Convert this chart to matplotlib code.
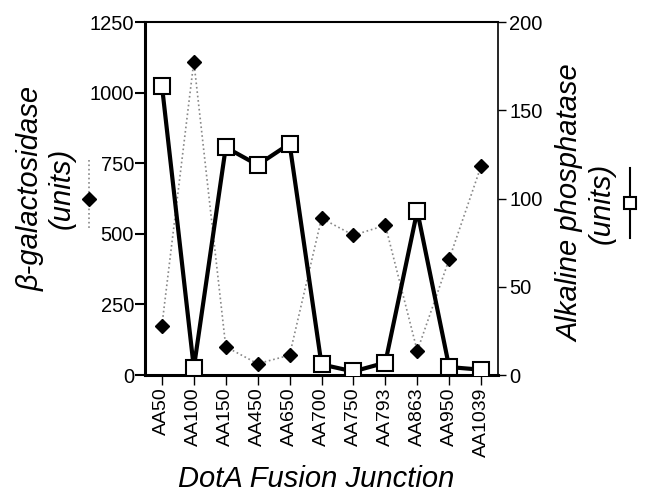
import matplotlib.pyplot as plt
from matplotlib.lines import Line2D

plt.rcParams['font.family'] = ['Liberation Sans', 'DejaVu Sans']

junctions = ['AA50', 'AA100', 'AA150', 'AA450', 'AA650', 'AA700',
             'AA750', 'AA793', 'AA863', 'AA950', 'AA1039']
beta_gal = [175, 1110, 100, 40, 70, 555, 495, 530, 85, 410, 740]
alk_phos = [164, 4, 129, 119, 131, 6, 2, 7, 93, 4.5, 3]

x = list(range(len(junctions)))
W, H = 647, 494

fig = plt.figure(figsize=(6.47, 4.94), dpi=100)
ax = fig.add_axes([145 / W, 1 - 375 / H, 353 / W, 353 / H])
ax2 = ax.twinx()

# beta-galactosidase: thin grey dotted line with black diamonds
ax.plot(x, beta_gal, color='#888888', linestyle=':', linewidth=1.2,
        marker='D', markersize=7, markerfacecolor='black',
        markeredgecolor='black', zorder=2)
# alkaline phosphatase: thick black line with open squares
ax2.plot(x, alk_phos, color='black', linewidth=3,
         marker='s', markersize=12, markerfacecolor='white',
         markeredgecolor='black', markeredgewidth=1.5, zorder=3)

ax.set_xlim(-0.53, len(junctions) - 0.47)
ax.set_ylim(0, 1250)
ax2.set_ylim(0, 200)
ax.set_yticks([0, 250, 500, 750, 1000, 1250])
ax2.set_yticks([0, 50, 100, 150, 200])
ax.set_xticks(x)
ax.set_xticklabels(junctions, rotation=90, fontsize=14)

ax.tick_params(axis='y', direction='out', length=7, width=1.5, labelsize=14.5, pad=1)
ax.tick_params(axis='x', direction='out', length=7, width=1, pad=2)
ax2.tick_params(axis='y', direction='out', length=6, width=1, labelsize=14.5, pad=2)

for s in ['left', 'bottom']:
    ax.spines[s].set_linewidth(2.2)
ax.spines['top'].set_linewidth(1.5)
ax2.spines['top'].set_visible(False)
ax2.spines['left'].set_visible(False)
ax2.spines['bottom'].set_visible(False)
ax2.spines['right'].set_linewidth(1.2)
ax.spines['right'].set_visible(False)

# axis titles placed by hand
fig.text(46 / W, 1 - 188 / H, 'β-galactosidase\n(units)', fontsize=21,
         style='italic', rotation=90, ha='center', va='center',
         multialignment='center', linespacing=1.15)
fig.text(586 / W, 1 - 203 / H, 'Alkaline phosphatase\n(units)', fontsize=21,
         style='italic', rotation=90, ha='center', va='center',
         multialignment='center', linespacing=1.15)
fig.text(316 / W, 1 - 487 / H, 'DotA Fusion Junction', fontsize=21,
         style='italic', ha='center', va='baseline')

# little key symbols beside the axis titles
fig.add_artist(Line2D([89 / W, 89 / W], [1 - 160 / H, 1 - 230 / H],
                      color='#888888', linestyle=':', linewidth=1.2))
fig.add_artist(Line2D([89 / W], [1 - 199 / H], marker='D', markersize=7,
                      color='black'))
fig.add_artist(Line2D([630 / W, 630 / W], [1 - 168 / H, 1 - 238 / H],
                      color='black', linewidth=1.5))
fig.add_artist(Line2D([630 / W], [1 - 203 / H], marker='s', markersize=8,
                      markerfacecolor='white', markeredgecolor='black',
                      markeredgewidth=1.5))

fig.savefig('out.png', dpi=100)
